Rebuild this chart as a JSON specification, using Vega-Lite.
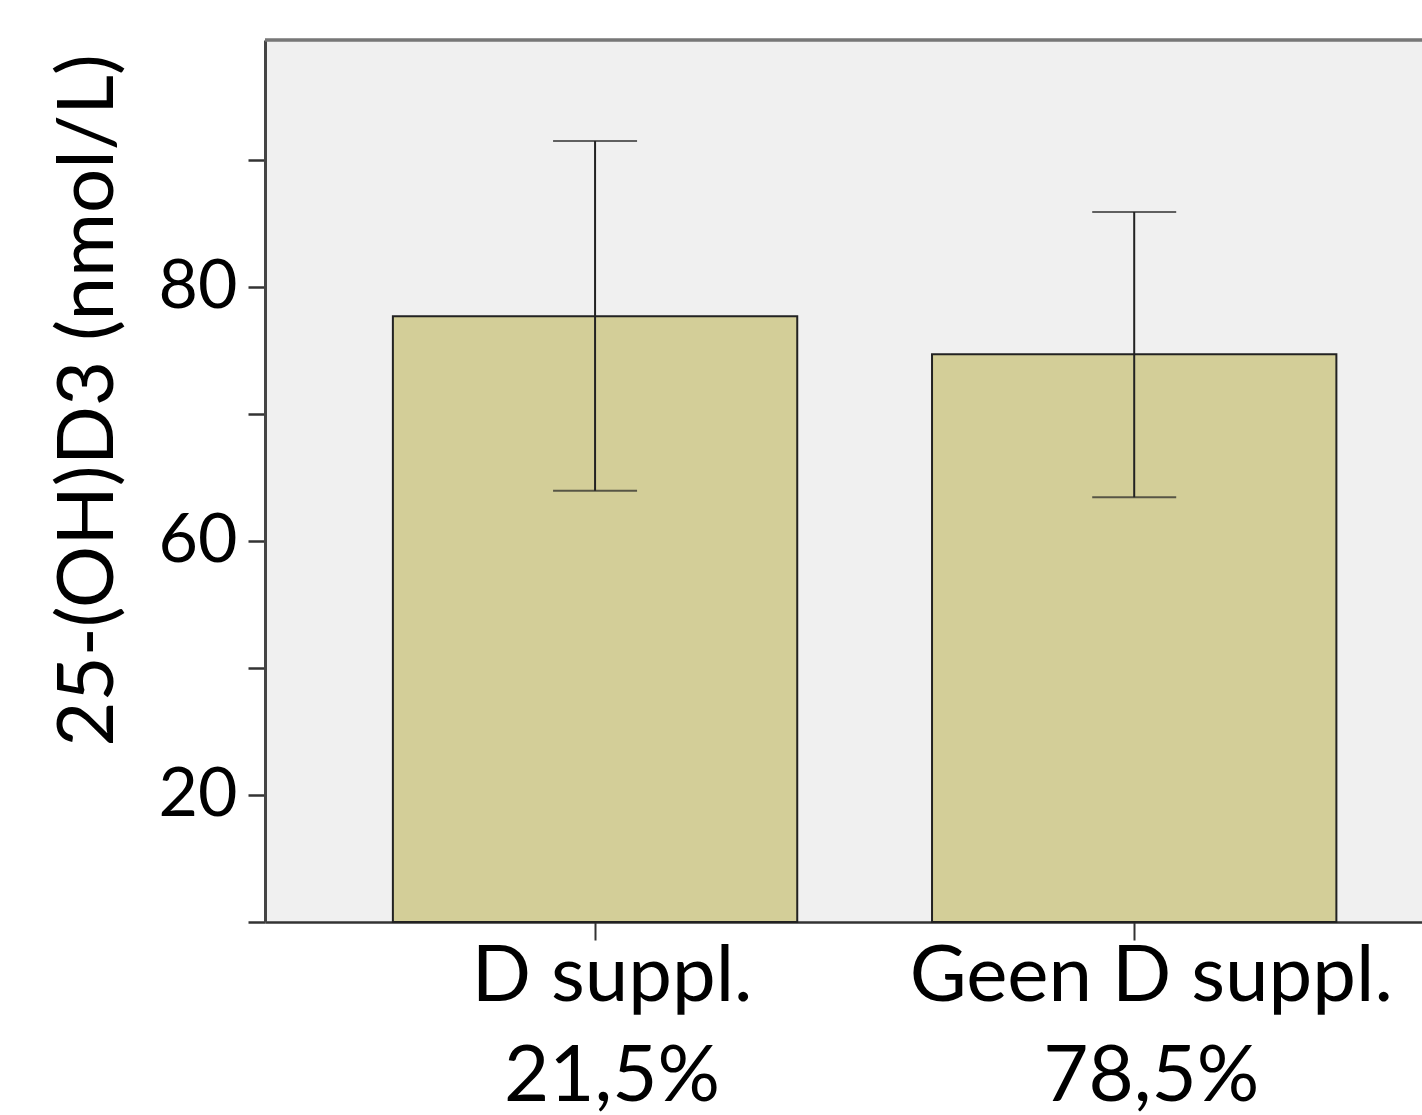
{
  "$schema": "https://vega.github.io/schema/vega-lite/v6.json",
  "autosize": {"type": "none"},
  "padding": {"left": 265, "top": 40, "right": 0, "bottom": 193},
  "width": 1157,
  "height": 882,
  "background": "white",
  "config": {
    "view": {"fill": "#f0f0f0", "stroke": null},
    "font": "Lato"
  },
  "data": {
    "values": [
      {"group": "D suppl.|21,5%", "mean": 95.4, "lo": 67.9, "hi": 123.0},
      {"group": "Geen D suppl.|78,5%", "mean": 89.4, "lo": 66.9, "hi": 111.8}
    ]
  },
  "layer": [
    {
      "encoding": {
        "x": {
          "field": "group",
          "type": "nominal",
          "sort": null,
          "scale": {"paddingInner": 0.25, "paddingOuter": 0.198, "align": 0.599},
          "axis": {
            "title": null,
            "labelAngle": 0,
            "labelExpr": "split(datum.label, '|')",
            "labelFont": "Lato",
            "labelFontSize": 78,
            "labelColor": "black",
            "labelLimit": 2000,
            "labelLineHeight": 100,
            "labelOffset": 17,
            "labelPadding": -2,
            "tickSize": 18,
            "tickWidth": 2,
            "tickColor": "#333333",
            "domainColor": "#333333",
            "domainWidth": 2.5
          }
        }
      },
      "layer": [
        {
          "mark": {"type": "bar", "fill": "#d3ce98", "stroke": "#222222", "strokeWidth": 2},
          "encoding": {
            "y": {
              "field": "mean",
              "type": "quantitative",
              "scale": {"domain": [0, 138.9], "nice": false, "zero": true},
              "axis": {
                "values": [0, 20, 40, 60, 80, 100, 120],
                "labelExpr": "datum.value == 20 ? '20' : datum.value == 60 ? '60' : datum.value == 100 ? '80' : ''",
                "labelFont": "Lato",
                "labelFontSize": 68,
                "labelColor": "black",
                "labelPadding": 11,
                "tickSize": 17,
                "tickWidth": 2.5,
                "tickColor": "#333333",
                "domainColor": "#444444",
                "domainWidth": 3,
                "grid": false,
                "title": "25-(OH)D3 (nmol/L)",
                "titleFont": "Lato",
                "titleFontSize": 78,
                "titleFontWeight": "normal",
                "titleColor": "black",
                "titleX": -153,
                "titleY": 360,
                "titleAngle": -90,
                "titleAlign": "center",
                "titleBaseline": "alphabetic"
              }
            }
          }
        },
        {
          "mark": {"type": "rule", "color": "#222222", "strokeWidth": 2},
          "encoding": {
            "y": {"field": "lo", "type": "quantitative"},
            "y2": {"field": "hi"}
          }
        },
        {
          "mark": {"type": "tick", "color": "#222222", "thickness": 2, "size": 84},
          "encoding": {"y": {"field": "lo", "type": "quantitative"}}
        },
        {
          "mark": {"type": "tick", "color": "#222222", "thickness": 2, "size": 84},
          "encoding": {"y": {"field": "hi", "type": "quantitative"}}
        }
      ]
    },
    {
      "mark": {"type": "rule", "color": "#777777", "strokeWidth": 3},
      "encoding": {"y": {"datum": 138.9}}
    }
  ]
}
